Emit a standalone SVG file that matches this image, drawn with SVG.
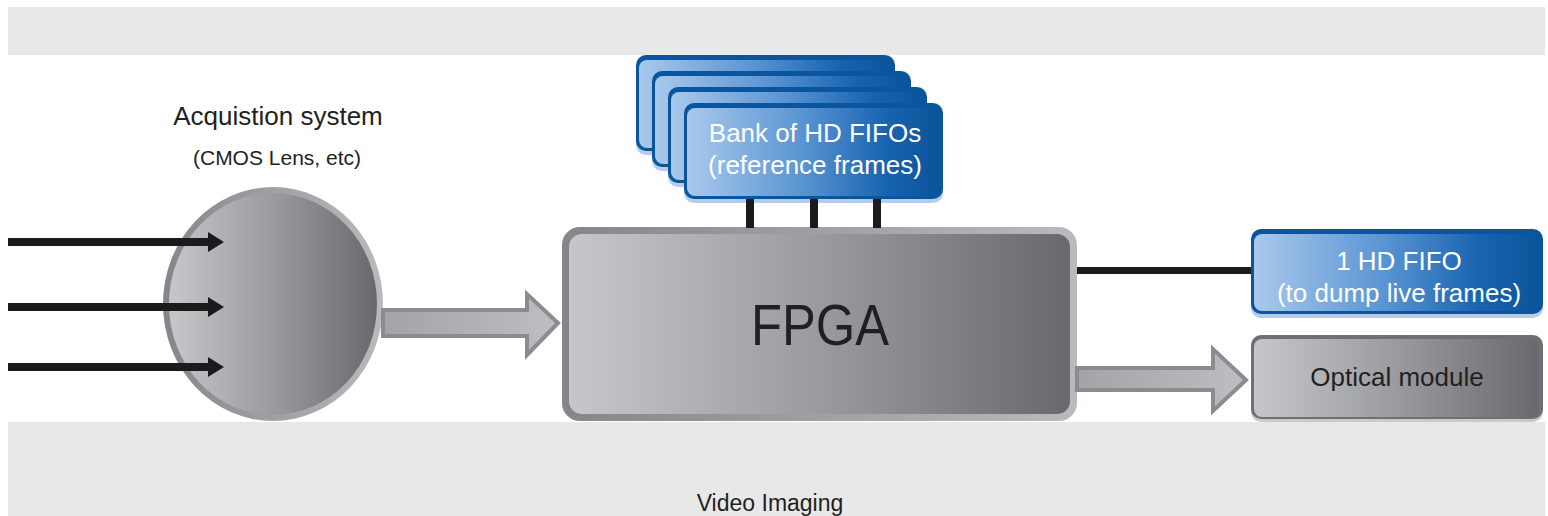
<svg xmlns="http://www.w3.org/2000/svg" width="1548" height="516" viewBox="0 0 1548 516">
<defs>
<linearGradient id="grayFill" x1="0" y1="0" x2="1" y2="0">
<stop offset="0" stop-color="#c6c7cb"/><stop offset="0.5" stop-color="#9a9b9f"/><stop offset="1" stop-color="#68696e"/>
</linearGradient>
<linearGradient id="grayRim" x1="0" y1="0" x2="1" y2="0">
<stop offset="0" stop-color="#85868a"/><stop offset="1" stop-color="#b9babe"/>
</linearGradient>
<linearGradient id="blueFill" x1="0" y1="0" x2="1" y2="0">
<stop offset="0" stop-color="#a9c9ec"/><stop offset="0.45" stop-color="#5b95d3"/><stop offset="0.8" stop-color="#1763ae"/><stop offset="1" stop-color="#0b5499"/>
</linearGradient>
<linearGradient id="arrowFill" x1="0" y1="0" x2="1" y2="0">
<stop offset="0" stop-color="#a3a4a8"/><stop offset="1" stop-color="#bdbec2"/>
</linearGradient>
<style>
.lbl{font-family:"Liberation Sans",Arial,sans-serif;fill:#231f20;text-anchor:middle}
.wl{font-family:"Liberation Sans",Arial,sans-serif;fill:#ffffff;text-anchor:middle;font-size:26px}
.band{fill:#e8e8e8}
.bshadow{fill:#b3cdec}
.bouter{fill:#0b559e}
.binner{fill:url(#blueFill)}
.blk{fill:#1c1b1c}
.garrow{fill:url(#arrowFill);stroke:#8b8c90;stroke-width:4;stroke-linejoin:miter}
</style>
</defs>
<rect x="0" y="0" width="1548" height="516" fill="#ffffff"/>
<rect class="band" x="8" y="7" width="1537" height="48"/>
<rect class="band" x="8" y="422" width="1537" height="94"/>

<g id="acquisition">
<ellipse cx="273" cy="304" rx="110" ry="117" fill="url(#grayRim)"/>
<ellipse cx="273" cy="304" rx="104" ry="111" fill="url(#grayFill)"/>
<text class="lbl" x="278" y="125" font-size="26">Acquistion system</text>
<text class="lbl" x="277" y="165" font-size="21">(CMOS Lens, etc)</text>
</g>

<g id="bank">
<g>
<rect class="bshadow" x="636" y="58" width="259" height="97" rx="10"/>
<rect class="bouter" x="636" y="55" width="259" height="96" rx="10"/>
<rect class="binner" x="639" y="60" width="252" height="88" rx="8"/>
</g>
<g>
<rect class="bshadow" x="652" y="74" width="259" height="97" rx="10"/>
<rect class="bouter" x="652" y="71" width="259" height="96" rx="10"/>
<rect class="binner" x="655" y="76" width="252" height="88" rx="8"/>
</g>
<g>
<rect class="bshadow" x="668" y="90" width="259" height="97" rx="10"/>
<rect class="bouter" x="668" y="87" width="259" height="96" rx="10"/>
<rect class="binner" x="671" y="92" width="252" height="88" rx="8"/>
</g>
<g>
<rect class="bshadow" x="684" y="106" width="259" height="97" rx="10"/>
<rect class="bouter" x="684" y="103" width="259" height="96" rx="10"/>
<rect class="binner" x="687" y="108" width="252" height="88" rx="8"/>
</g>
<text class="wl" x="815" y="142">Bank of HD FIFOs</text>
<text class="wl" x="815" y="174">(reference frames)</text>
</g>

<g id="fpga">
<rect x="562" y="227" width="515" height="194" rx="18" fill="url(#grayRim)"/>
<rect x="569" y="234" width="501" height="180" rx="13" fill="url(#grayFill)"/>
<text class="lbl" x="820" y="345" font-size="58" textLength="138" lengthAdjust="spacingAndGlyphs">FPGA</text>
</g>

<g id="hdfifo">
<rect class="bshadow" x="1251" y="232" width="292" height="86" rx="10"/>
<rect class="bouter" x="1251" y="229" width="292" height="85" rx="10"/>
<rect class="binner" x="1254" y="234" width="285" height="77" rx="8"/>
<text class="wl" x="1399" y="270">1 HD FIFO</text>
<text class="wl" x="1399" y="302">(to dump live frames)</text>
</g>

<g id="optical">
<rect x="1251" y="337" width="292" height="85" rx="10" fill="#c9cacd"/>
<rect x="1251" y="335" width="292" height="84" rx="10" fill="#6f7074"/>
<rect x="1254" y="339" width="285" height="78" rx="8" fill="url(#grayFill)"/>
<text class="lbl" x="1397" y="386" font-size="26">Optical module</text>
</g>

<g id="connectors">
<rect class="blk" x="8" y="238" width="204" height="8"/>
<polygon class="blk" points="208,232 224,242 208,252"/>
<rect class="blk" x="8" y="303" width="204" height="8"/>
<polygon class="blk" points="208,297 224,307 208,317"/>
<rect class="blk" x="8" y="363" width="204" height="8"/>
<polygon class="blk" points="208,357 224,367 208,377"/>
<polygon class="garrow" points="383,310 527,310 527,294 558,323 527,355 527,336 383,336"/>
<polygon class="garrow" points="1077,368 1213,368 1213,349 1246,380 1213,411 1213,390 1077,390"/>
<rect class="blk" x="746" y="199" width="8" height="29"/>
<rect class="blk" x="810" y="199" width="8" height="29"/>
<rect class="blk" x="873" y="199" width="8" height="29"/>
<rect class="blk" x="1077" y="267" width="174" height="7"/>
</g>

<text class="lbl" x="770" y="511" font-size="23">Video Imaging</text>
</svg>
